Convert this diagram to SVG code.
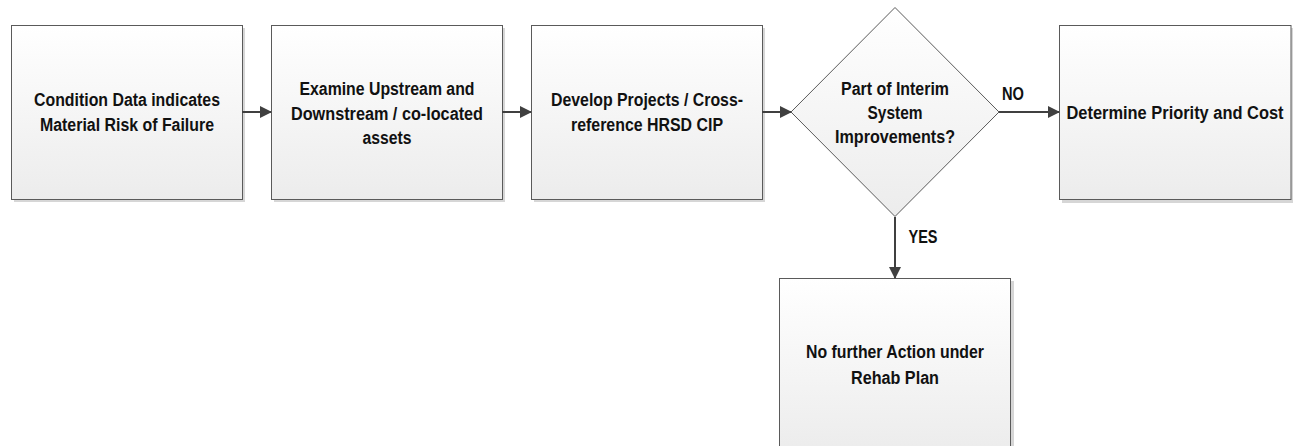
<svg xmlns="http://www.w3.org/2000/svg" width="1293" height="446" viewBox="0 0 1293 446">
<style>
.box{fill:url(#g);stroke:#5a5a5a;stroke-width:1}
.sh{fill:#d6d6d6}
.t{font-family:"Liberation Sans",sans-serif;font-weight:bold;font-size:18px;fill:#111;text-anchor:middle}
.c{stroke:#404040;stroke-width:2;fill:none;marker-end:url(#a)}
</style>
<defs>
<linearGradient id="g" x1="0" y1="0" x2="0" y2="1"><stop offset="0" stop-color="#ffffff"/><stop offset="1" stop-color="#ececec"/></linearGradient>
<marker id="a" markerWidth="12" markerHeight="12" refX="11" refY="6" orient="auto" markerUnits="userSpaceOnUse"><path d="M0,0 L12,6 L0,12 z" fill="#404040"/></marker>
</defs>
<rect width="1293" height="446" fill="#fff"/>
<g id="n1"><rect class="sh" x="14" y="28" width="231" height="174"/><rect class="box" x="11.5" y="25.5" width="231" height="174"/>
<text class="t" x="127" y="106" textLength="186" lengthAdjust="spacingAndGlyphs">Condition Data indicates</text><text class="t" x="127" y="131" textLength="174" lengthAdjust="spacingAndGlyphs">Material Risk of Failure</text></g>
<g id="n2"><rect class="sh" x="274" y="28" width="231" height="174"/><rect class="box" x="271.5" y="25.5" width="231" height="174"/>
<text class="t" x="387" y="95" textLength="175" lengthAdjust="spacingAndGlyphs">Examine Upstream and</text><text class="t" x="387" y="120" textLength="192" lengthAdjust="spacingAndGlyphs">Downstream / co-located</text><text class="t" x="387" y="144" textLength="49" lengthAdjust="spacingAndGlyphs">assets</text></g>
<g id="n3"><rect class="sh" x="534" y="28" width="231" height="174"/><rect class="box" x="531.5" y="25.5" width="231" height="174"/>
<text class="t" x="647" y="106" textLength="192" lengthAdjust="spacingAndGlyphs">Develop Projects / Cross-</text><text class="t" x="647" y="131" textLength="152" lengthAdjust="spacingAndGlyphs">reference HRSD CIP</text></g>
<g id="n4"><polygon class="box" points="895,7.5 999,112 895,216.5 791,112"/>
<text class="t" x="895" y="95" textLength="108" lengthAdjust="spacingAndGlyphs">Part of Interim</text><text class="t" x="895" y="119" textLength="55" lengthAdjust="spacingAndGlyphs">System</text><text class="t" x="895" y="143" textLength="120" lengthAdjust="spacingAndGlyphs">Improvements?</text></g>
<g id="n5"><rect class="sh" x="1062" y="28" width="231" height="175"/><rect class="box" x="1059.5" y="25.5" width="231.5" height="174"/>
<text class="t" x="1175" y="118" style="font-size:16px;transform-box:fill-box;transform-origin:center;transform:scaleY(1.12)" textLength="217" lengthAdjust="spacingAndGlyphs">Determine Priority and Cost</text></g>
<g id="n6"><rect class="sh" x="782" y="281" width="232" height="174"/><rect class="box" x="779.5" y="278.5" width="231" height="174"/>
<text class="t" x="895" y="358" textLength="178" lengthAdjust="spacingAndGlyphs">No further Action under</text><text class="t" x="895" y="384" textLength="88" lengthAdjust="spacingAndGlyphs">Rehab Plan</text></g>
<g id="connectors">
<line class="c" x1="242" y1="112" x2="271" y2="112"/>
<line class="c" x1="502" y1="112" x2="531" y2="112"/>
<line class="c" x1="762" y1="112" x2="791" y2="112"/>
<line class="c" x1="999" y1="112" x2="1059" y2="112"/>
<line class="c" x1="895" y1="217" x2="895" y2="278"/>
<text class="t" x="1013" y="100" textLength="22" lengthAdjust="spacingAndGlyphs">NO</text>
<text class="t" x="923" y="243" textLength="29" lengthAdjust="spacingAndGlyphs">YES</text>
</g>
</svg>
